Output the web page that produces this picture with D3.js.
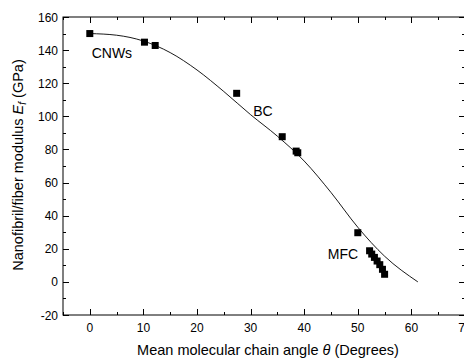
<!DOCTYPE html>
<html>
<head>
<meta charset="utf-8">
<script src="https://cdn.jsdelivr.net/npm/d3@7"></script>
<style>
  body { margin: 0; background: #fff; }
  text { font-family: "Liberation Sans", Arial, sans-serif; fill: #000; }
</style>
</head>
<body>
<svg id="chart" width="464" height="359"></svg>
<script>
const cnwAngle = [0, 10.2, 12.2];
const cnwModulus = [150, 144.8, 142.8];
const bcAngle = [27.4, 35.9, 38.5, 38.8];
const bcModulus = [113.9, 87.7, 79, 78];
const mfcAngle = [50, 52.2, 52.6, 53.1, 53.6, 54.1, 54.6, 55.0];
const mfcModulus = [29.7, 18.8, 16.8, 14.8, 12.6, 10.4, 7.6, 4.6];

// fitted curve
const fitAngle = [0, 5, 10, 15, 20, 25, 30, 35, 40, 45, 50, 55, 61.2];
const fitModulus = [150, 149, 145.5, 138.5, 128, 115, 101, 88, 73, 54, 33, 15.5, 0];

const xTicks = [0, 10, 20, 30, 40, 50, 60, 70];
const yTicks = [-20, 0, 20, 40, 60, 80, 100, 120, 140, 160];

const labels = [
  {text: "CNWs", x: 0.35, y: 135},
  {text: "BC", x: 30.5, y: 100.5},
  {text: "MFC", x: 44.4, y: 14}
];

const LEFT = 63, RIGHT = 465, TOP = 17, BOTTOM = 315;

let svg = d3.select("#chart");

let x = d3.scaleLinear().domain([-5, 70]).range([LEFT, RIGHT]);
let y = d3.scaleLinear().domain([-20, 160]).range([BOTTOM, TOP]);

// frame
svg.append("rect")
  .attr("x", LEFT).attr("y", TOP)
  .attr("width", RIGHT - LEFT).attr("height", BOTTOM - TOP)
  .attr("fill", "none").attr("stroke", "#000").attr("stroke-width", 1);

// ticks pointing inward on all four sides
const xMinor = d3.range(-5, 71, 5).filter(v => v % 10 !== 0);
const yMinor = d3.range(-10, 160, 20);

function tickMarks(g, vals, len, horizontal) {
  vals.forEach(v => {
    if (horizontal) {
      let px = Math.round(x(v)) + 0.5;
      g.append("line").attr("x1", px).attr("x2", px).attr("y1", BOTTOM).attr("y2", BOTTOM - len);
      g.append("line").attr("x1", px).attr("x2", px).attr("y1", TOP).attr("y2", TOP + len);
    } else {
      let py = Math.round(y(v)) + 0.5;
      g.append("line").attr("y1", py).attr("y2", py).attr("x1", LEFT).attr("x2", LEFT + len);
      g.append("line").attr("y1", py).attr("y2", py).attr("x1", RIGHT).attr("x2", RIGHT - len);
    }
  });
}

let ticks = svg.append("g").attr("stroke", "#000").attr("stroke-width", 1);
tickMarks(ticks, xTicks, 6, true);
tickMarks(ticks, xMinor, 3, true);
tickMarks(ticks, yTicks, 6, false);
tickMarks(ticks, yMinor, 3, false);

// tick labels
svg.append("g").selectAll("text").data(xTicks).join("text")
  .attr("x", d => x(d)).attr("y", BOTTOM + 17)
  .attr("text-anchor", "middle").attr("font-size", 12)
  .text(d => d);

svg.append("g").selectAll("text").data(yTicks).join("text")
  .attr("x", LEFT - 5).attr("y", d => y(d) + 4.5)
  .attr("text-anchor", "end").attr("font-size", 12)
  .text(d => d);

// axis titles
let xt = svg.append("text")
  .attr("x", 268).attr("y", 355)
  .attr("text-anchor", "middle").attr("font-size", 14.5);
xt.append("tspan").text("Mean molecular chain angle ");
xt.append("tspan").attr("font-style", "italic").text("θ");
xt.append("tspan").text(" (Degrees)");

let yt = svg.append("text")
  .attr("transform", "translate(23,165) rotate(-90)")
  .attr("text-anchor", "middle").attr("font-size", 14.5);
yt.append("tspan").text("Nanofibril/fiber modulus ");
yt.append("tspan").attr("font-style", "italic").text("E");
yt.append("tspan").attr("font-style", "italic").attr("font-size", 10).attr("dy", 3).text("f");
yt.append("tspan").attr("dy", -3).text(" (GPa)");

// fitted curve
let fit = fitAngle.map((a, i) => [a, fitModulus[i]]);
svg.append("path")
  .datum(fit)
  .attr("fill", "none").attr("stroke", "#000").attr("stroke-width", 0.9)
  .attr("d", d3.line().x(d => x(d[0])).y(d => y(d[1])).curve(d3.curveMonotoneX));

// data squares
let pts = [];
cnwAngle.forEach((a, i) => pts.push([a, cnwModulus[i]]));
bcAngle.forEach((a, i) => pts.push([a, bcModulus[i]]));
mfcAngle.forEach((a, i) => pts.push([a, mfcModulus[i]]));

const SQ = 7;
svg.append("g").selectAll("rect").data(pts).join("rect")
  .attr("x", d => x(d[0]) - SQ / 2).attr("y", d => y(d[1]) - SQ / 2)
  .attr("width", SQ).attr("height", SQ)
  .attr("fill", "#000");

// group labels
svg.append("g").selectAll("text").data(labels).join("text")
  .attr("x", d => x(d.x)).attr("y", d => y(d.y))
  .attr("font-size", 14)
  .text(d => d.text);
</script>
</body>
</html>
